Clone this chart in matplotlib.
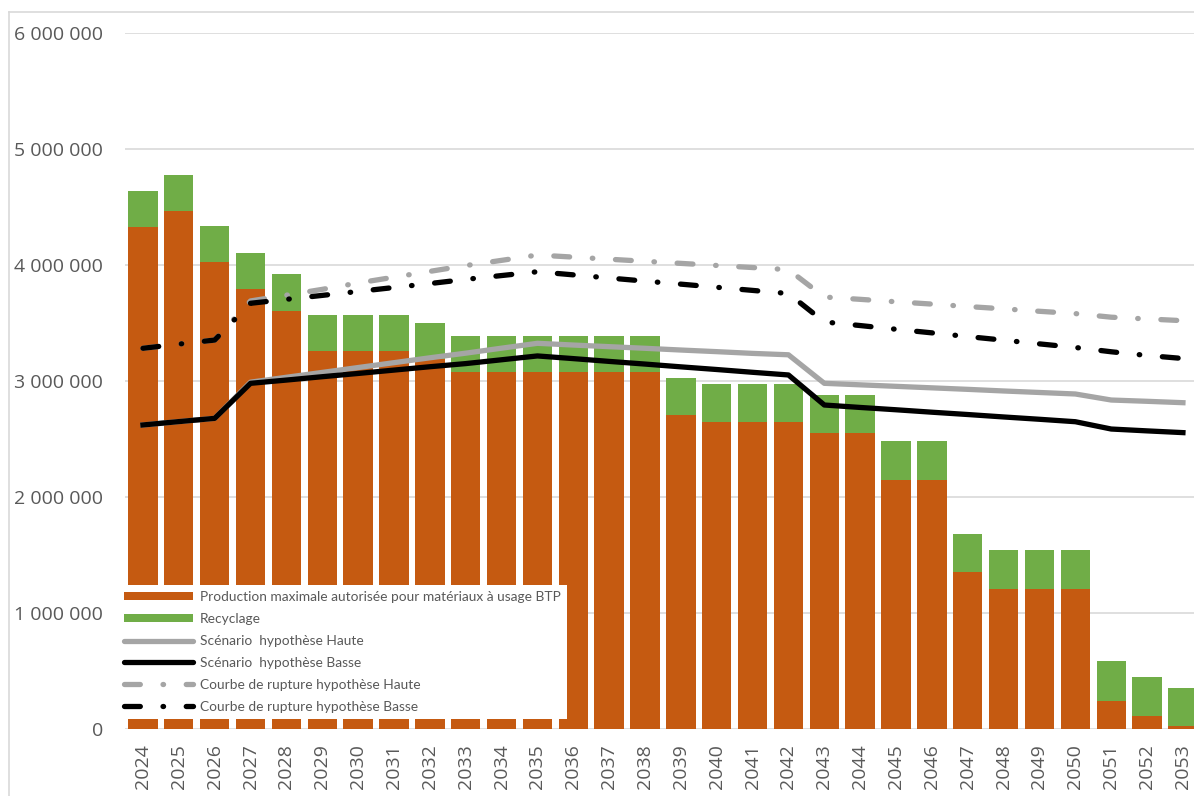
import matplotlib
matplotlib.use("Agg")
import matplotlib.pyplot as plt
import numpy as np
from matplotlib.patches import Patch
from matplotlib.lines import Line2D

# ---------------- data ----------------
years = [str(y) for y in range(2024, 2054)]

production = [4328000, 4466000, 4023000, 3790000, 3603000, 3256000, 3256000, 3256000,
              3190000, 3075000, 3075000, 3075000, 3075000, 3075000, 3075000, 2707000,
              2649000, 2649000, 2649000, 2549000, 2549000, 2147000, 2147000, 1356000,
              1207000, 1207000, 1207000, 244000, 109000, 23000]

recyclage = [310000, 310000, 310000, 313000, 317000, 310000, 310000, 310000,
             313000, 313000, 313000, 313000, 313000, 313000, 313000, 323000,
             325000, 325000, 325000, 327000, 327000, 338000, 338000, 328000,
             333000, 333000, 333000, 338000, 339000, 333000]

scen_haute = [2621000, 2650000, 2678000, 2990000, 3032000, 3074000, 3116000, 3158000,
              3200000, 3240000, 3283000, 3325000, 3310000, 3296000, 3282000, 3267000,
              3253000, 3238000, 3226000, 2980000, 2967000, 2954000, 2941000, 2928000,
              2914000, 2901000, 2888000, 2836000, 2825000, 2813000]

scen_basse = [2621000, 2650000, 2678000, 2980000, 3008000, 3037000, 3065000, 3094000,
              3123000, 3150000, 3183000, 3216000, 3193000, 3169000, 3146000, 3122000,
              3099000, 3075000, 3052000, 2793000, 2772000, 2752000, 2731000, 2711000,
              2690000, 2670000, 2649000, 2586000, 2570000, 2555000]

rupt_haute = [3282000, 3318000, 3353000, 3690000, 3740000, 3790000, 3845000, 3895000,
              3945000, 3995000, 4040000, 4086000, 4068000, 4050000, 4032000, 4014000,
              3996000, 3978000, 3960000, 3724000, 3704000, 3683000, 3663000, 3642000,
              3622000, 3601000, 3581000, 3550000, 3535000, 3520000]

rupt_basse = [3282000, 3318000, 3353000, 3670000, 3704000, 3738000, 3772000, 3806000,
              3840000, 3876000, 3909000, 3942000, 3915000, 3888000, 3861000, 3835000,
              3808000, 3781000, 3754000, 3509000, 3478000, 3446000, 3415000, 3383000,
              3352000, 3320000, 3289000, 3252000, 3220000, 3194000]

yticks = [0, 1000000, 2000000, 3000000, 4000000, 5000000, 6000000]
ytick_labels = ["0", "1 000 000", "2 000 000", "3 000 000", "4 000 000", "5 000 000", "6 000 000"]

labels = ["Production maximale autorisée pour matériaux à usage BTP", "Recyclage",
          "Scénario  hypothèse Haute", "Scénario  hypothèse Basse",
          "Courbe de rupture hypothèse Haute", "Courbe de rupture hypothèse Basse"]

# ---------------- style ----------------
ORANGE = "#C55A11"
GREEN = "#70AD47"
GREY = "#A5A5A5"
BLACK = "#000000"
TXT = "#595959"
GRID = "#D9D9D9"

W, H = 1194, 796
fig = plt.figure(figsize=(W / 100, H / 100), dpi=100)
ax_left = 125 / W
ax_bottom = (H - 729) / H
ax_top = (H - 33) / H
ax = fig.add_axes([ax_left, ax_bottom, 1.0 - ax_left, ax_top - ax_bottom])

x = np.arange(len(years))
ax.bar(x, production, width=0.82, color=ORANGE, zorder=2, label=labels[0])
ax.bar(x, recyclage, width=0.82, bottom=production, color=GREEN, zorder=2, label=labels[1])

lw = 3.8
dashdot = (0, (3.0, 4.3, 0.1, 4.3))
ax.plot(x, scen_haute, color=GREY, lw=lw, zorder=3, solid_joinstyle="round", label=labels[2])
ax.plot(x, scen_basse, color=BLACK, lw=lw, zorder=4, solid_joinstyle="round", label=labels[3])
ax.plot(x, rupt_haute, color=GREY, lw=lw, ls=dashdot, dash_capstyle="round", zorder=3, label=labels[4])
ax.plot(x, rupt_basse, color=BLACK, lw=lw, ls=dashdot, dash_capstyle="round", zorder=4, label=labels[5])

ax.set_ylim(0, 6000000)
ax.set_xlim(-0.5, (W - 143) / 35.86)
ax.set_yticks(yticks)
ax.set_yticklabels(ytick_labels)
ax.set_xticks(x)
ax.set_xticklabels(years, rotation=90)
ax.grid(axis="y", color=GRID, lw=1.2, zorder=0)
ax.set_axisbelow(True)
for s in ax.spines.values():
    s.set_visible(False)
ax.tick_params(axis="both", length=0, colors=TXT)
ax.tick_params(axis="y", pad=16)
ax.tick_params(axis="x", pad=11)
for t in ax.get_yticklabels() + ax.get_xticklabels():
    t.set_fontfamily(["Open Sans", "DejaVu Sans"])
    t.set_fontsize(14)
    t.set_color(TXT)

# legend
handles = [Patch(facecolor=ORANGE, edgecolor="none"),
           Patch(facecolor=GREEN, edgecolor="none"),
           Line2D([], [], color=GREY, lw=lw, solid_capstyle="round"),
           Line2D([], [], color=BLACK, lw=lw, solid_capstyle="round"),
           Line2D([], [], color=GREY, lw=lw, ls=dashdot, dash_capstyle="round"),
           Line2D([], [], color=BLACK, lw=lw, ls=dashdot, dash_capstyle="round")]
leg = ax.legend(handles, labels, loc="upper left",
                bbox_to_anchor=((118 - 125) / (W - 125), (729 - 585) / (729 - 33)),
                borderaxespad=0, frameon=True, fancybox=False,
                prop={"family": ["Lato", "DejaVu Sans"], "size": 9.9},
                handlelength=5.0, handleheight=0.5, handletextpad=0.5,
                labelspacing=0.72, borderpad=0.45, labelcolor=TXT)
leg.get_frame().set_facecolor("white")
leg.get_frame().set_edgecolor("none")
leg.get_frame().set_alpha(1)
leg.set_zorder(10)

# outer chart border
fig.add_artist(Line2D([9 / W, 9 / W], [0, (H - 12) / H], color=GRID, lw=1.2,
                      transform=fig.transFigure))
fig.add_artist(Line2D([9 / W, 1], [(H - 12) / H, (H - 12) / H], color=GRID, lw=1.2,
                      transform=fig.transFigure))

fig.savefig("out.png", dpi=100)
